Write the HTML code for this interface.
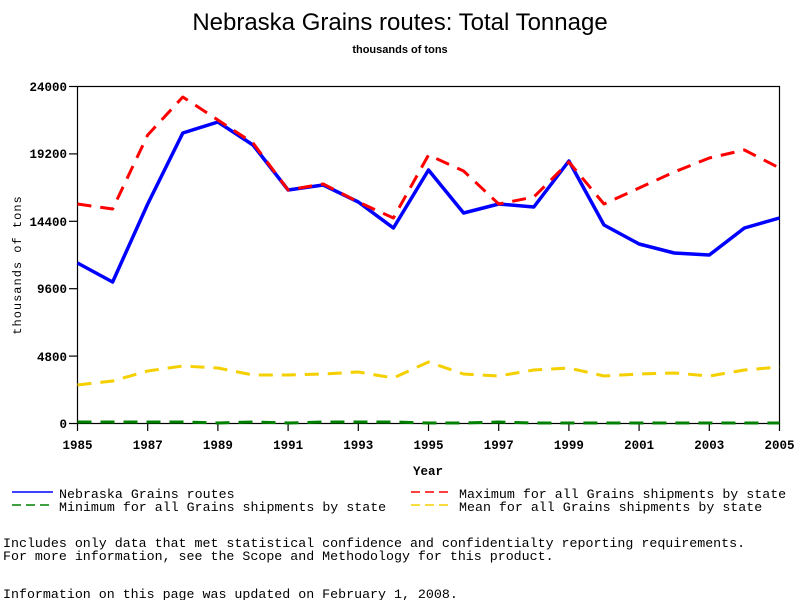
<!DOCTYPE html>
<html><head><style>
body{margin:0;background:#fff;width:800px;height:600px;overflow:hidden}
svg{display:block}
.t{font-family:"Liberation Mono",monospace;font-weight:bold;font-size:12.5px}
.m{font-family:"Liberation Mono",monospace;font-size:13.3px}
</style></head><body>
<svg width="800" height="600" xmlns="http://www.w3.org/2000/svg">
<text x="400" y="30" text-anchor="middle" font-family="Liberation Sans,sans-serif" font-size="24">Nebraska Grains routes: Total Tonnage</text>
<text x="400" y="53" text-anchor="middle" font-family="Liberation Sans,sans-serif" font-size="11" font-weight="bold">thousands of tons</text>
<rect x="77.5" y="86.5" width="702" height="337" fill="none" stroke="#000" stroke-width="1.2"/>
<g stroke="#000" stroke-width="1.2">
<line x1="69" y1="86.5" x2="77" y2="86.5"/><line x1="69" y1="153.9" x2="77" y2="153.9"/><line x1="69" y1="221.3" x2="77" y2="221.3"/><line x1="69" y1="288.7" x2="77" y2="288.7"/><line x1="69" y1="356.1" x2="77" y2="356.1"/><line x1="69" y1="423.5" x2="77" y2="423.5"/>
</g>
<g class="t" text-anchor="end">
<text x="67" y="91">24000</text><text x="67" y="158">19200</text><text x="67" y="226">14400</text><text x="67" y="293">9600</text><text x="67" y="361">4800</text><text x="67" y="428">0</text>
</g>
<g stroke="#000" stroke-width="1.2" id="xt"></g>
<g class="t" text-anchor="middle" id="xl"></g>
<text class="t" x="428" y="475" text-anchor="middle">Year</text>
<text x="21" y="265" transform="rotate(-90 21 265)" text-anchor="middle" font-family="Liberation Mono,monospace" font-size="12" letter-spacing="1">thousands of tons</text>
<g fill="none" stroke-linejoin="round">
<polyline id="g" stroke="#008000" stroke-width="3" stroke-dasharray="14,9"/>
<polyline id="y" stroke="#f5d000" stroke-width="3" stroke-dasharray="14,9"/>
<polyline id="b" stroke="#0000ff" stroke-width="3.5"/>
<polyline id="r" stroke="#ff0000" stroke-width="3" stroke-dasharray="14,9"/>
</g>
<line x1="12" y1="492" x2="53" y2="492" stroke="#0000ff" stroke-width="1.5"/>
<line x1="12" y1="505" x2="53" y2="505" stroke="#008000" stroke-width="1.5" stroke-dasharray="9,5"/>
<line x1="411" y1="492" x2="452" y2="492" stroke="#ff0000" stroke-width="1.5" stroke-dasharray="9,5"/>
<line x1="411" y1="505" x2="452" y2="505" stroke="#f5d000" stroke-width="1.5" stroke-dasharray="9,5"/>
<g class="m">
<text x="59" y="498">Nebraska Grains routes</text>
<text x="59" y="511">Minimum for all Grains shipments by state</text>
<text x="459" y="498">Maximum for all Grains shipments by state</text>
<text x="459" y="511">Mean for all Grains shipments by state</text>
<text x="3" y="547">Includes only data that met statistical confidence and confidentialty reporting requirements.</text>
<text x="3" y="560">For more information, see the Scope and Methodology for this product.</text>
<text x="3" y="598">Information on this page was updated on February 1, 2008.</text>
</g>
</svg>
<script>
var X=y=>77.5+(y-1985)*35.1;
var xt=document.getElementById('xt'),xl=document.getElementById('xl'),ns='http://www.w3.org/2000/svg';
for(var yr=1985;yr<=2005;yr+=2){var l=document.createElementNS(ns,'line');l.setAttribute('x1',X(yr));l.setAttribute('x2',X(yr));l.setAttribute('y1',423);l.setAttribute('y2',431);xt.appendChild(l);
var t=document.createElementNS(ns,'text');t.setAttribute('x',X(yr));t.setAttribute('y',449);t.textContent=yr;xl.appendChild(t);}
function P(id,a){document.getElementById(id).setAttribute('points',a.map((v,i)=>X(1985+i)+','+v).join(' '));}
P('b',[263,282,204,133,122,145,190,185,202,228,170,213,204,207,161,225,244,253,255,228,218]);
P('r',[204,209,135,97,120,143,190,184,202,218,155,171,204,197,162,204,188,172,158,150,168]);
P('y',[385,381,371,366,368,375,375,374,372,378,362,374,376,370,368,376,374,373,376,370,367]);
P('g',[422,422,422,422,423,422,423,422,422,422,423,423,422,423,423,423,423,423,423,423,423]);
</script>
</body></html>
